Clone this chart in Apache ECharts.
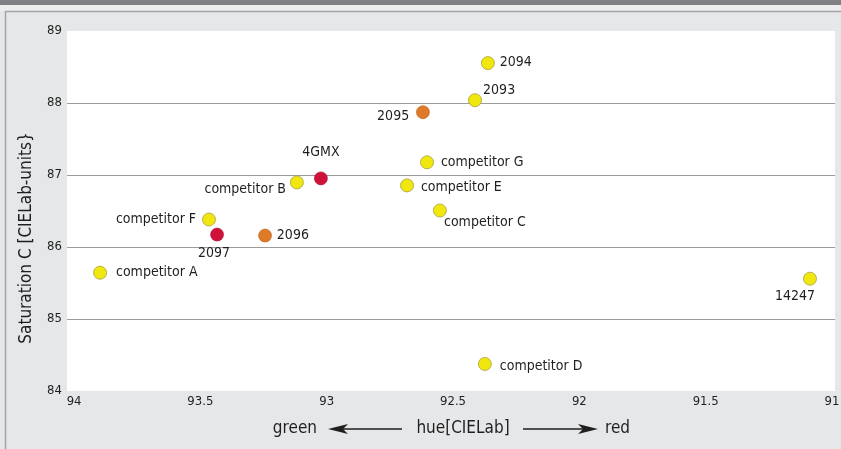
<!DOCTYPE html>
<html>
<head>
<meta charset="utf-8">
<script src="https://cdn.jsdelivr.net/npm/echarts@6/dist/echarts.min.js"></script>
<style>
    html, body { margin: 0; padding: 0; background: #e6e7e9; }
    #chart { width: 841px; height: 449px; }
</style>
</head>
<body>
<div id="chart"></div>
<script>
    // data
    var names = ['competitor A', 'competitor F', '2097', '2096', 'competitor B', '4GMX', '2095',
        'competitor G', 'competitor E', 'competitor C', '2093', '2094', 'competitor D', '14247'];
    var hue = [93.897, 93.466, 93.434, 93.244, 93.118, 93.023, 92.619,
        92.603, 92.682, 92.552, 92.413, 92.362, 92.374, 91.087];
    var saturation = [85.643, 86.382, 86.173, 86.159, 86.897, 86.953, 87.872,
        87.176, 86.855, 86.507, 88.039, 88.554, 84.376, 85.560];
    var kind = ['yellow', 'yellow', 'red', 'orange', 'yellow', 'red', 'orange',
        'yellow', 'yellow', 'yellow', 'yellow', 'yellow', 'yellow', 'yellow'];
    var xTicks = [94, 93.5, 93, 92.5, 92, 91.5, 91];
    var yTicks = [84, 85, 86, 87, 88, 89];

    var font = '"Liberation Sans Narrow", "DejaVu Sans Condensed", "Roboto Condensed", sans-serif';
    var ink = '#1f1f1f';

    // where each label goes relative to its dot
    var labelPlace = {
        'competitor A': { position: 'right', distance: 9 },
        'competitor F': { position: 'left', distance: 6 },
        '2097': { position: 'bottom', distance: 5, offset: [-3, 0] },
        '2096': { position: 'right', distance: 5 },
        'competitor B': { position: 'left', distance: 4, offset: [0, 7] },
        '4GMX': { position: 'top', distance: 12 },
        '2095': { position: 'left', distance: 7, offset: [0, 4] },
        'competitor G': { position: 'right', distance: 7 },
        'competitor E': { position: 'right', distance: 7, offset: [0, 2] },
        'competitor C': { position: [11, 12] },
        '2093': { position: [15, -10] },
        '2094': { position: 'right', distance: 5, offset: [0, -1] },
        'competitor D': { position: 'right', distance: 8, offset: [0, 2] },
        '14247': { position: 'bottom', distance: 4, offset: [-15, 0] }
    };

    var styles = {
        yellow: { color: '#f0e70f', borderColor: '#a99f3c', borderWidth: 0.8, opacity: 1 },
        orange: { color: '#de7a28', borderColor: '#b8621f', borderWidth: 0.6, opacity: 1 },
        red: { color: '#d0123a', borderColor: '#a5112e', borderWidth: 0.6, opacity: 1 }
    };

    var series = ['yellow', 'orange', 'red'].map(function (k) {
        var pts = [];
        for (var i = 0; i < names.length; i++) {
            if (kind[i] !== k) continue;
            pts.push({
                name: names[i],
                value: [hue[i], saturation[i]],
                label: labelPlace[names[i]]
            });
        }
        return {
            type: 'scatter',
            symbolSize: 13,
            itemStyle: styles[k],
            label: {
                show: true,
                formatter: '{b}',
                color: ink,
                fontFamily: font,
                fontSize: 14
            },
            data: pts
        };
    });

    var titleStyle = { fill: ink, fontFamily: font, fontSize: 17 };

    var option = {
        backgroundColor: '#e6e7e9',
        animation: false,
        grid: {
            left: 67, right: 6, top: 31, bottom: 58,
            outerBoundsMode: 'none',
            containLabel: false,
            show: true, backgroundColor: '#ffffff', borderWidth: 0
        },
        xAxis: {
            type: 'value',
            inverse: true,
            min: 90.988, max: 94.028,
            axisLine: { show: false },
            axisTick: { show: false },
            splitLine: { show: false },
            axisLabel: {
                customValues: xTicks,
                margin: 4,
                color: ink,
                fontFamily: font,
                fontSize: 13,
                formatter: function (v) { return String(v); }
            }
        },
        yAxis: {
            type: 'value',
            min: yTicks[0], max: yTicks[yTicks.length - 1], interval: 1,
            axisLine: { show: false },
            axisTick: { show: false },
            splitLine: {
                show: true, showMinLine: false, showMaxLine: false,
                lineStyle: { color: '#9b9b9b', width: 1 }
            },
            axisLabel: {
                margin: 5,
                color: ink,
                fontFamily: font,
                fontSize: 13
            }
        },
        graphic: [
            // frame
            { type: 'rect', shape: { x: 0, y: 0, width: 841, height: 11 }, style: { fill: '#ededee' }, silent: true },
            { type: 'rect', shape: { x: 0, y: 0, width: 841, height: 5 }, style: { fill: '#808184' }, silent: true },
            { type: 'line', shape: { x1: 5, y1: 11.5, x2: 841, y2: 11.5 }, style: { stroke: '#a2a4a7', lineWidth: 1.5 }, silent: true },
            { type: 'line', shape: { x1: 5.5, y1: 11, x2: 5.5, y2: 449 }, style: { stroke: '#a2a4a7', lineWidth: 1.5 }, silent: true },
            // y axis title
            {
                type: 'text', x: 27, y: 238, rotation: Math.PI / 2,
                style: Object.assign({ text: 'Saturation C [CIELab-units}', align: 'center', verticalAlign: 'middle' }, titleStyle)
            },
            // x axis title with arrows
            { type: 'text', x: 317, y: 429, style: Object.assign({ text: 'green', align: 'right', verticalAlign: 'middle' }, titleStyle) },
            { type: 'text', x: 463, y: 429, style: Object.assign({ text: 'hue[CIELab]', align: 'center', verticalAlign: 'middle' }, titleStyle) },
            { type: 'text', x: 605, y: 429, style: Object.assign({ text: 'red', align: 'left', verticalAlign: 'middle' }, titleStyle) },
            { type: 'line', shape: { x1: 338, y1: 429, x2: 402, y2: 429 }, style: { stroke: ink, lineWidth: 1.3 } },
            { type: 'polygon', shape: { points: [[328, 429], [348, 424], [343, 429], [348, 434]] }, style: { fill: ink } },
            { type: 'line', shape: { x1: 523, y1: 429, x2: 588, y2: 429 }, style: { stroke: ink, lineWidth: 1.3 } },
            { type: 'polygon', shape: { points: [[598, 429], [578, 424], [583, 429], [578, 434]] }, style: { fill: ink } }
        ],
        series: series
    };

    var chart = echarts.init(document.getElementById('chart'));
    chart.setOption(option);
</script>
</body>
</html>
